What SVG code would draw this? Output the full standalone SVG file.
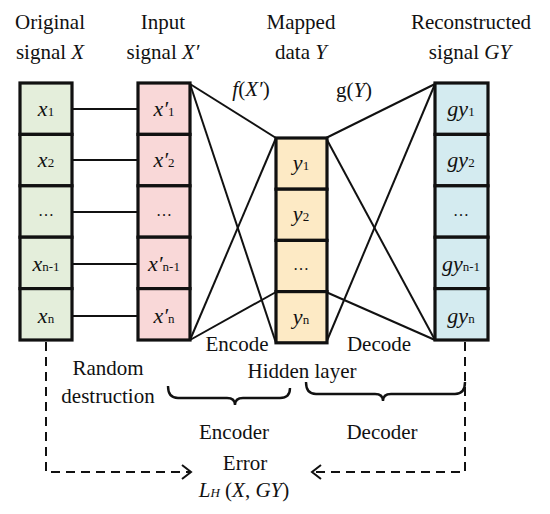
<svg xmlns="http://www.w3.org/2000/svg" width="550" height="514" viewBox="0 0 550 514">
<style>
text{fill:#111;font-family:"Liberation Serif","Times New Roman",Times,Tinos,"DejaVu Serif",serif}
.lbl{font-size:21px;text-anchor:middle}
.cell{font-size:22px;text-anchor:middle}
.i{font-style:italic}
.sub{font-size:13px;font-style:normal}
.box{stroke:#111;stroke-width:3.2}
.g{fill:#e4eedb}.p{fill:#f9d8d8}.y{fill:#fdeac5}.b{fill:#d4ebf0}
.ln{stroke:#111;stroke-width:2;fill:none}
.dash{stroke:#111;stroke-width:2;fill:none;stroke-dasharray:9 6}
.br{stroke:#111;stroke-width:2.4;fill:none}
</style>
<g id="labels">
<text class="lbl" x="50" y="29">Original</text>
<text class="lbl" x="50" y="59">signal <tspan class="i">X</tspan></text>
<text class="lbl" x="163" y="29">Input</text>
<text class="lbl" x="163" y="59">signal <tspan class="i">X′</tspan></text>
<text class="lbl" x="301" y="29">Mapped</text>
<text class="lbl" x="301" y="59">data <tspan class="i">Y</tspan></text>
<text class="lbl" x="471" y="29">Reconstructed</text>
<text class="lbl" x="470" y="59">signal <tspan class="i">GY</tspan></text>
<text class="lbl" x="251" y="96"><tspan class="i">f</tspan>(<tspan class="i">X′</tspan>)</text>
<text class="lbl" x="354" y="97">g(<tspan class="i">Y</tspan>)</text>
</g>
<g id="connectors">
<line class="ln" x1="72" y1="109" x2="138" y2="109"/>
<line class="ln" x1="72" y1="160" x2="138" y2="160"/>
<line class="ln" x1="72" y1="212" x2="138" y2="212"/>
<line class="ln" x1="72" y1="264" x2="138" y2="264"/>
<line class="ln" x1="72" y1="316" x2="138" y2="316"/>
<line class="ln" x1="190" y1="84" x2="276" y2="138"/>
<line class="ln" x1="190" y1="84" x2="276" y2="343"/>
<line class="ln" x1="190" y1="340" x2="276" y2="138"/>
<line class="ln" x1="190" y1="340" x2="276" y2="292"/>
<line class="ln" x1="326" y1="138" x2="435" y2="84"/>
<line class="ln" x1="326" y1="138" x2="435" y2="340"/>
<line class="ln" x1="326" y1="343" x2="435" y2="84"/>
<line class="ln" x1="326" y1="292" x2="435" y2="340"/>
<path class="dash" d="M46,342 V472 H190"/>
<path class="ln" d="M182,465 L191,472 L182,479"/>
<path class="dash" d="M465,342 V472 H315"/>
<path class="ln" d="M321,465 L312,472 L321,479"/>
<path class="br" d="M168,386 Q168,398 178,398 H227 Q235,398 235,405 Q235,398 243,398 H280 Q290,398 290,388"/>
<path class="br" d="M306,382 Q306,394 316,394 H375 Q383,394 383,401 Q383,394 391,394 H455 Q465,394 465,382"/>
</g>
<g id="original">
<rect class="box g" x="20" y="83" width="52" height="51.4"/>
<rect class="box g" x="20" y="134.4" width="52" height="51.4"/>
<rect class="box g" x="20" y="185.8" width="52" height="51.4"/>
<rect class="box g" x="20" y="237.2" width="52" height="51.4"/>
<rect class="box g" x="20" y="288.6" width="52" height="51.4"/>
<text class="cell" x="46" y="116"><tspan class="i">x</tspan><tspan class="sub">1</tspan></text>
<text class="cell" x="46" y="167"><tspan class="i">x</tspan><tspan class="sub">2</tspan></text>
<text class="cell" x="46" y="216" style="font-size:16px">…</text>
<text class="cell" x="46" y="271"><tspan class="i">x</tspan><tspan class="sub">n-1</tspan></text>
<text class="cell" x="46" y="323"><tspan class="i">x</tspan><tspan class="sub">n</tspan></text>
</g>
<g id="input">
<rect class="box p" x="138" y="83" width="52" height="51.4"/>
<rect class="box p" x="138" y="134.4" width="52" height="51.4"/>
<rect class="box p" x="138" y="185.8" width="52" height="51.4"/>
<rect class="box p" x="138" y="237.2" width="52" height="51.4"/>
<rect class="box p" x="138" y="288.6" width="52" height="51.4"/>
<text class="cell" x="164" y="116"><tspan class="i">x′</tspan><tspan class="sub">1</tspan></text>
<text class="cell" x="164" y="167"><tspan class="i">x′</tspan><tspan class="sub">2</tspan></text>
<text class="cell" x="164" y="216" style="font-size:16px">…</text>
<text class="cell" x="164" y="271"><tspan class="i">x′</tspan><tspan class="sub">n-1</tspan></text>
<text class="cell" x="164" y="323"><tspan class="i">x′</tspan><tspan class="sub">n</tspan></text>
</g>
<g id="mapped">
<rect class="box y" x="276" y="138" width="51" height="51.2"/>
<rect class="box y" x="276" y="189.2" width="51" height="51.2"/>
<rect class="box y" x="276" y="240.4" width="51" height="51.2"/>
<rect class="box y" x="276" y="291.6" width="51" height="51.2"/>
<text class="cell" x="301" y="170"><tspan class="i">y</tspan><tspan class="sub">1</tspan></text>
<text class="cell" x="301" y="221"><tspan class="i">y</tspan><tspan class="sub">2</tspan></text>
<text class="cell" x="301" y="270" style="font-size:16px">…</text>
<text class="cell" x="301" y="324"><tspan class="i">y</tspan><tspan class="sub">n</tspan></text>
</g>
<g id="reconstructed">
<rect class="box b" x="435" y="83" width="53" height="51.4"/>
<rect class="box b" x="435" y="134.4" width="53" height="51.4"/>
<rect class="box b" x="435" y="185.8" width="53" height="51.4"/>
<rect class="box b" x="435" y="237.2" width="53" height="51.4"/>
<rect class="box b" x="435" y="288.6" width="53" height="51.4"/>
<text class="cell" x="461" y="116"><tspan class="i">gy</tspan><tspan class="sub">1</tspan></text>
<text class="cell" x="461" y="167"><tspan class="i">gy</tspan><tspan class="sub">2</tspan></text>
<text class="cell" x="461" y="216" style="font-size:16px">…</text>
<text class="cell" x="461" y="271"><tspan class="i">gy</tspan><tspan class="sub">n-1</tspan></text>
<text class="cell" x="461" y="323"><tspan class="i">gy</tspan><tspan class="sub">n</tspan></text>
</g>
<g id="bottom-labels">
<text class="lbl" x="237" y="351">Encode</text>
<text class="lbl" x="379" y="351">Decode</text>
<text class="lbl" x="302" y="378">Hidden layer</text>
<text class="lbl" x="108" y="375">Random</text>
<text class="lbl" x="108" y="403">destruction</text>
<text class="lbl" x="234" y="439">Encoder</text>
<text class="lbl" x="382" y="439">Decoder</text>
<text class="lbl" x="245" y="470">Error</text>
<text class="lbl" x="244" y="497"><tspan class="i">L</tspan><tspan class="i" style="font-size:13px">H</tspan> (<tspan class="i">X</tspan>, <tspan class="i">GY</tspan>)</text>
</g>
</svg>
